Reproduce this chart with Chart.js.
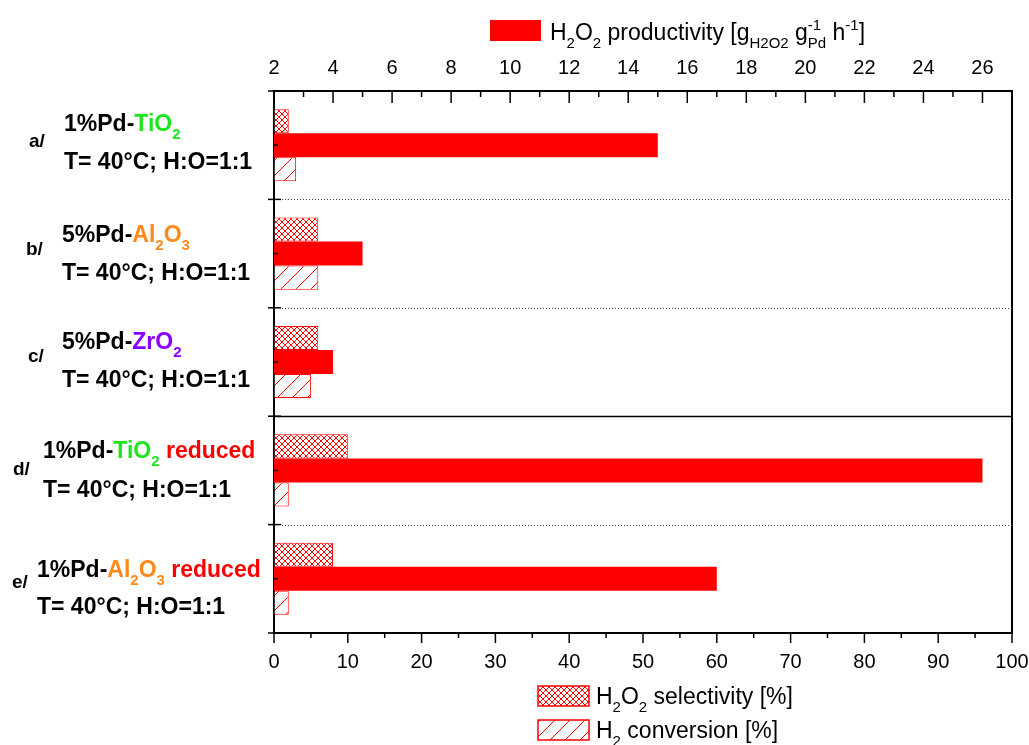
<!DOCTYPE html>
<html>
<head>
<meta charset="utf-8">
<script src="https://cdn.jsdelivr.net/npm/chart.js@4.4.0/dist/chart.umd.min.js"></script>
<style>
    html, body { margin: 0; padding: 0; background: #fff; }
</style>
</head>
<body>
<canvas id="chart" width="1029" height="745"></canvas>
<script>
// DATA
var categories = ['a/', 'b/', 'c/', 'd/', 'e/'];
var selectivity = [2, 6, 6, 10, 8];      // H2O2 selectivity [%], bottom axis
var productivity = [15, 5, 4, 26, 17];   // H2O2 productivity, top axis
var conversion = [3, 6, 5, 2, 2];        // H2 conversion [%], bottom axis
var bottomTicks = [0, 10, 20, 30, 40, 50, 60, 70, 80, 90, 100];
var topTicks = [2, 4, 6, 8, 10, 12, 14, 16, 18, 20, 22, 24, 26];

var GREEN = '#1ee61e', ORANGE = '#ff8a1c', PURPLE = '#8a00ff', RED = '#ff0000';
var catalystNames = [
    [['1%Pd-'], ['TiO', GREEN], ['2', GREEN, 'sub']],
    [['5%Pd-'], ['Al', ORANGE], ['2', ORANGE, 'sub'], ['O', ORANGE], ['3', ORANGE, 'sub']],
    [['5%Pd-'], ['ZrO', PURPLE], ['2', PURPLE, 'sub']],
    [['1%Pd-'], ['TiO', GREEN], ['2', GREEN, 'sub'], [' reduced', RED]],
    [['1%Pd-'], ['Al', ORANGE], ['2', ORANGE, 'sub'], ['O', ORANGE], ['3', ORANGE, 'sub'], [' reduced', RED]]
];
var conditions = ['T= 40°C; H:O=1:1', 'T= 40°C; H:O=1:1', 'T= 40°C; H:O=1:1', 'T= 40°C; H:O=1:1', 'T= 40°C; H:O=1:1'];

// label placement relative to each category centre
var labelPos = [
    { tagX: 29, tagDy: 2, x: 64, dy1: -14, dy2: 24 },
    { tagX: 26, tagDy: 1.5, x: 62, dy1: -12, dy2: 26.5 },
    { tagX: 28, tagDy: 0, x: 62, dy1: -13, dy2: 25 },
    { tagX: 13, tagDy: 5, x: 43, dy1: -12, dy2: 27 },
    { tagX: 12, tagDy: 9.5, x: 37, dy1: -2, dy2: 35.5 }
];

var FONT = '"Liberation Sans", Arial, sans-serif';

function makePattern(kind) {
    var size = kind == 'cross' ? 6 : 15;
    var c = document.createElement('canvas');
    c.width = size;
    c.height = size;
    var g = c.getContext('2d');
    g.fillStyle = '#fff';
    g.fillRect(0, 0, size, size);
    g.strokeStyle = RED;
    g.lineWidth = 1;
    g.beginPath();
    g.moveTo(-1, size + 1); g.lineTo(size + 1, -1);
    g.moveTo(-1, 1); g.lineTo(1, -1);
    g.moveTo(size - 1, size + 1); g.lineTo(size + 1, size - 1);
    if (kind == 'cross') {
        g.moveTo(-1, -1); g.lineTo(size + 1, size + 1);
        g.moveTo(size - 1, -1); g.lineTo(size + 1, 1);
        g.moveTo(-1, size - 1); g.lineTo(1, size + 1);
    }
    g.stroke();
    return g.createPattern(c, 'repeat');
}

var crossPattern = makePattern('cross');
var hatchPattern = makePattern('hatch');

// text with sub/superscripts: [text, color, 'sub'|'sup', noAdvance]
function drawRich(ctx, x, y, parts, size, weight) {
    var small = Math.round(size * 0.65);
    for (var i = 0; i < parts.length; i++) {
        var p = parts[i];
        var s = p[2] ? small : size;
        ctx.font = weight + ' ' + s + 'px ' + FONT;
        ctx.fillStyle = p[1] || '#000';
        var dy = p[2] == 'sub' ? size * 0.35 : (p[2] == 'sup' ? -size * 0.45 : 0);
        ctx.fillText(p[0], x, y + dy);
        if (!p[3]) x += ctx.measureText(p[0]).width;
    }
    return x;
}

function line(ctx, x1, y1, x2, y2) {
    ctx.beginPath();
    ctx.moveTo(x1, y1);
    ctx.lineTo(x2, y2);
    ctx.stroke();
}

var decorations = {
    id: 'decorations',
    afterDraw: function(chart) {
        var ctx = chart.ctx;
        var area = chart.chartArea;
        var xs = chart.scales.x, x2 = chart.scales.x2, ys = chart.scales.y;
        var step = (area.bottom - area.top) / categories.length;

        ctx.save();
        ctx.textBaseline = 'alphabetic';
        ctx.textAlign = 'left';

        // right frame
        ctx.strokeStyle = '#000';
        ctx.lineWidth = 2;
        line(ctx, area.right, area.top, area.right, area.bottom);

        // group separators
        for (var k = 1; k < categories.length; k++) {
            var sy = Math.round(area.top + k * step) + 0.5;
            if (k == 3) {
                ctx.setLineDash([]);
                ctx.strokeStyle = '#000';
                ctx.lineWidth = 1.5;
                line(ctx, area.left, sy, area.right, sy);
            } else {
                ctx.setLineDash([1, 2]);
                ctx.strokeStyle = '#444';
                ctx.lineWidth = 1;
                line(ctx, area.left + 8, sy, area.right, sy);
            }
        }
        ctx.setLineDash([]);
        ctx.strokeStyle = '#000';

        // left axis ticks
        ctx.lineWidth = 1.5;
        for (var b = 0; b <= categories.length; b++) {
            var by = area.top + b * step;
            line(ctx, area.left - 6, by, area.left + 7, by);
        }
        for (var i = 0; i < categories.length; i++) {
            var cy = ys.getPixelForValue(i);
            line(ctx, area.left, cy, area.left + 4, cy);
        }

        // top axis ticks (inward)
        for (var v = x2.min; v <= x2.max; v++) {
            var px = x2.getPixelForValue(v);
            line(ctx, px, area.top, px, area.top + (v % 2 == 0 ? 12 : 6));
        }

        // bottom axis ticks (outward)
        for (var w = xs.min; w <= xs.max; w += 5) {
            var qx = xs.getPixelForValue(w);
            line(ctx, qx, area.bottom, qx, area.bottom + (w % 10 == 0 ? 10 : 5));
        }

        // category labels
        for (var n = 0; n < categories.length; n++) {
            var c = ys.getPixelForValue(n);
            var lp = labelPos[n];
            ctx.fillStyle = '#000';
            ctx.font = 'bold 19px ' + FONT;
            ctx.fillText(categories[n], lp.tagX, c + lp.tagDy);
            drawRich(ctx, lp.x, c + lp.dy1, catalystNames[n], 23, 'bold');
            ctx.fillStyle = '#000';
            ctx.font = 'bold 23px ' + FONT;
            ctx.fillText(conditions[n], lp.x, c + lp.dy2);
        }

        // top legend
        ctx.fillStyle = RED;
        ctx.fillRect(490, 20, 51, 21);
        drawRich(ctx, 550, 40, [['H'], ['2', 0, 'sub'], ['O'], ['2', 0, 'sub'], [' productivity [g'],
            ['H2O2', 0, 'sub'], [' g'], ['-1', 0, 'sup', true], ['Pd', 0, 'sub'], [' h'], ['-1', 0, 'sup'], [']']], 23, 'normal');

        // bottom legend
        ctx.lineWidth = 1.5;
        ctx.strokeStyle = RED;
        ctx.fillStyle = crossPattern;
        ctx.fillRect(538, 686, 51, 20);
        ctx.strokeRect(538, 686, 51, 20);
        ctx.fillStyle = hatchPattern;
        ctx.fillRect(538, 720, 51, 20);
        ctx.strokeRect(538, 720, 51, 20);
        drawRich(ctx, 596, 704, [['H'], ['2', 0, 'sub'], ['O'], ['2', 0, 'sub'], [' selectivity [%]']], 23, 'normal');
        drawRich(ctx, 596, 738, [['H'], ['2', 0, 'sub'], [' conversion [%]']], 23, 'normal');

        ctx.restore();
    }
};

function noPad(scale) {
    scale.paddingLeft = 0;
    scale.paddingRight = 0;
    scale.paddingTop = 0;
    scale.paddingBottom = 0;
}

var ctx = document.getElementById('chart').getContext('2d');
var myChart = new Chart(ctx, {
    type: 'bar',
    data: {
        labels: categories,
        datasets: [{
            label: 'H2O2 selectivity [%]',
            data: selectivity,
            xAxisID: 'x',
            backgroundColor: crossPattern,
            borderColor: RED,
            borderWidth: 1
        }, {
            label: 'H2O2 productivity',
            data: productivity,
            xAxisID: 'x2',
            backgroundColor: RED,
            borderWidth: 0
        }, {
            label: 'H2 conversion [%]',
            data: conversion,
            xAxisID: 'x',
            backgroundColor: hatchPattern,
            borderColor: RED,
            borderWidth: 1
        }]
    },
    options: {
        indexAxis: 'y',
        responsive: false,
        animation: false,
        categoryPercentage: 0.665,
        barPercentage: 1,
        layout: { padding: { left: 0, right: 17, top: 0, bottom: 0 } },
        plugins: {
            legend: { display: false },
            tooltip: { enabled: false }
        },
        scales: {
            y: {
                type: 'category',
                position: 'left',
                offset: true,
                grid: { display: false },
                ticks: { display: false },
                border: { color: '#000', width: 2 },
                afterFit: function(s) { s.width = 274; noPad(s); }
            },
            x: {
                position: 'bottom',
                min: 0,
                max: 100,
                ticks: {
                    color: '#000',
                    padding: 17,
                    maxRotation: 0,
                    autoSkip: false,
                    font: { family: FONT, size: 20 }
                },
                afterBuildTicks: function(s) {
                    s.ticks = bottomTicks.map(function(t) { return { value: t }; });
                },
                grid: { drawOnChartArea: false, drawTicks: false },
                border: { color: '#000', width: 2 },
                afterFit: function(s) { s.height = 112; noPad(s); }
            },
            x2: {
                position: 'top',
                min: 2,
                max: 27,
                ticks: {
                    color: '#000',
                    padding: 11,
                    maxRotation: 0,
                    autoSkip: false,
                    font: { family: FONT, size: 20 }
                },
                afterBuildTicks: function(s) {
                    s.ticks = topTicks.map(function(t) { return { value: t }; });
                },
                grid: { drawOnChartArea: false, drawTicks: false },
                border: { color: '#000', width: 2 },
                afterFit: function(s) { s.height = 91; noPad(s); }
            }
        }
    },
    plugins: [decorations]
});
</script>
</body>
</html>
